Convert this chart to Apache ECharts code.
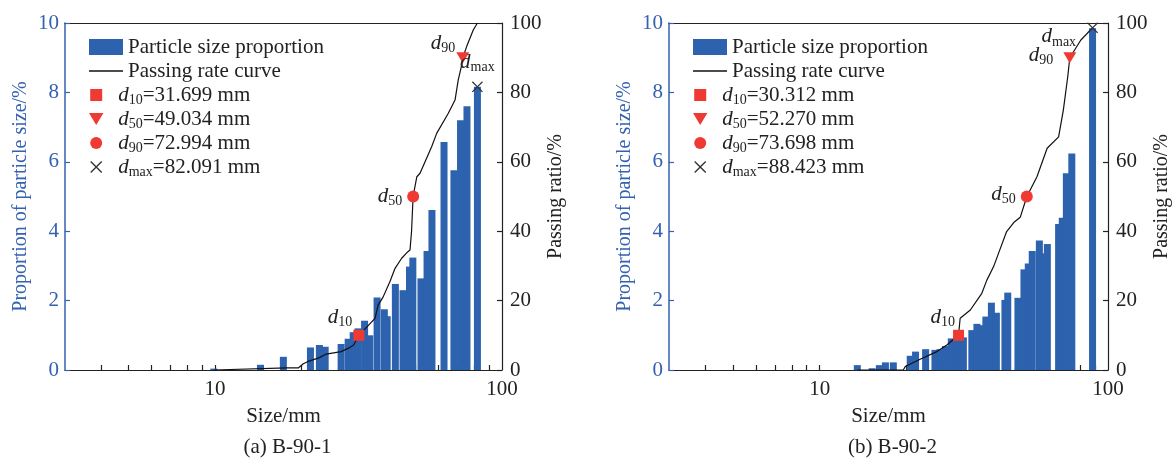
<!DOCTYPE html>
<html>
<head>
<meta charset="utf-8">
<script src="https://cdn.jsdelivr.net/npm/echarts@6/dist/echarts.min.js"></script>
<style>
  html, body { margin: 0; padding: 0; background: #fff; }
  #chart { width: 1174px; height: 459px; }
</style>
</head>
<body>
<div id="chart"></div>
<script>
// ---- particle size distribution, sample B-90-1 ----
const sizesA = [9.9, 14.4, 17.3, 21.5, 23.1, 24.2, 27.5, 29.1, 30.3, 31.5, 33.2, 34.6, 36.7, 38.9, 39.8,
                42.5, 45.2, 47.6, 48.9, 52.2, 54.8, 57.0, 62.8, 68.0, 71.7, 75.5, 82.1];
const propA  = [0.04, 0.15, 0.38, 0.65, 0.72, 0.67, 0.75, 0.90, 1.09, 1.20, 1.42, 1.00, 2.09, 1.75, 1.55,
                2.48, 2.30, 2.98, 3.24, 2.64, 3.43, 4.61, 6.57, 5.76, 7.20, 7.60, 8.16];
const passSizeA = [9.9, 17.8, 19.5, 20.3, 21.0, 23.0, 24.4, 27.5, 29.2, 30.4, 31.7, 34.1, 36.1, 37.0, 38.5,
                   40.7, 42.4, 44.7, 47.0, 47.8, 48.4, 49.0, 50.5, 51.8, 56.9, 59.2, 65.0, 68.6, 70.4,
                   72.4, 73.0, 75.3, 79.4, 82.1];
const passRateA = [0, 0.6, 0.6, 1.8, 2.4, 3.5, 4.6, 5.3, 6.3, 7.2, 10.0, 12.7, 14.9, 18.7, 21.0,
                   25.5, 29.3, 32.2, 34.1, 34.6, 40.0, 50.0, 55.7, 56.7, 64.4, 68.2, 74.0, 77.8, 83.6,
                   87.9, 90.0, 93.2, 98.0, 100];
const charSizesA = [31.699, 49.034, 72.994, 82.091];
const charRatesA = [10, 50, 90, 81.6];

// ---- particle size distribution, sample B-90-2 ----
const sizesB = [13.5, 15.2, 16.1, 16.9, 18.0, 20.6, 21.5, 23.3, 25.1, 26.1, 27.3, 28.6, 30.0, 31.5, 33.7,
                35.1, 36.4, 37.7, 39.4, 41.0, 43.9, 44.9, 48.7, 51.1, 52.9, 54.6, 57.8, 59.7, 61.6,
                67.4, 69.4, 71.7, 74.9, 88.4];
const propB  = [0.14, 0.05, 0.14, 0.22, 0.22, 0.41, 0.53, 0.60, 0.58, 0.60, 0.69, 0.91, 1.00, 0.94, 1.15,
                1.33, 1.29, 1.54, 1.94, 1.65, 2.02, 2.23, 2.08, 2.90, 3.07, 3.43, 3.73, 3.36, 3.63,
                4.21, 4.39, 5.67, 6.24, 9.85];
const passSizeB = [13.5, 19.5, 19.8, 22.3, 25.5, 27.6, 30.3, 30.7, 33.3, 36.5, 38.0, 40.1, 41.7, 44.5,
                   47.1, 49.6, 52.3, 56.7, 61.5, 67.4, 70.0, 72.5, 73.7, 80.5, 88.4];
const passRateB = [0, 0, 1.0, 3.1, 5.3, 7.2, 10.0, 14.9, 17.3, 22.1, 25.9, 29.8, 33.6, 39.9,
                   42.5, 44.0, 50.0, 55.7, 63.9, 67.2, 74.9, 84.5, 90.0, 95.1, 98.6];
const charSizesB = [30.312, 52.270, 73.698, 88.423];
const charRatesB = [10, 50, 90, 98.6];

// ---- shared labels and ticks ----
const charNames = ['d10', 'd50', 'd90', 'dmax'];
const charSubs = ['10', '50', '90', 'max'];
const xLabelSizes = [10, 100];
const xTickSizes = [4, 5, 6, 7, 8, 9, 10, 20, 30, 40, 50, 60, 70, 80, 90];
const leftTicks = [0, 2, 4, 6, 8, 10];
const rightTicks = [0, 20, 40, 60, 80, 100];
const panelTitles = ['(a) B-90-1', '(b) B-90-2'];

// ---- styling ----
const FONT = '"Liberation Serif", "Times New Roman", serif';
const BLUE = '#3561b1';
const BAR = '#2c62ae';
const RED = '#ee3a33';
const INK = '#222';
const TRI_DOWN = 'path://M0,0L12,0L6,10Z';
const CROSS = 'path://M0,0.8L0.8,0L5,4.2L9.2,0L10,0.8L5.8,5L10,9.2L9.2,10L5,5.8L0.8,10L0,9.2L4.2,5Z';
const SQUARE = 'path://M0,0H10V10H0Z';
const DASH = 'path://M0,0H34V1.6H0Z';
const X_MIN = Math.log10(3), X_MAX = 2;
const log10 = Math.log10;

const rich = {
  i: { fontFamily: FONT, fontStyle: 'italic', fontSize: 21, color: INK, lineHeight: 24 },
  s: { fontFamily: FONT, fontSize: 14, color: INK, lineHeight: 12, verticalAlign: 'bottom' },
  t: { fontFamily: FONT, fontSize: 21, color: INK, lineHeight: 24 }
};

const grids = [
  { left: 65, top: 23, width: 437, height: 347 },
  { left: 669, top: 23, width: 439, height: 347 }
];

const markerSymbols = ['rect', 'circle', TRI_DOWN, CROSS];
const markerSizes = [11, 12, [13, 11], 11];
const markerColors = [RED, RED, RED, '#333'];
const legendIcons = [SQUARE, TRI_DOWN, 'circle', CROSS];
const labelPlacement = [
  [['left', [4, -18]], ['left', [0, 0]], ['left', [4, -14]], ['top', [0, -2]]],
  [['left', [7, -18]], ['left', [0, -2]], ['left', [-5, -2]], ['left', [-6, 9]]]
];

const xAxes = [], yAxes = [], series = [], legends = [], graphics = [];

function addPanel(idx, sizes, props, passS, passR, cSizes, cRates) {
  const g = grids[idx];
  // bottom log-scaled size axis
  xAxes.push({
    type: 'value', gridIndex: idx, position: 'bottom', min: X_MIN, max: X_MAX,
    axisLine: { onZero: false, lineStyle: { color: INK, width: 1.2 } },
    axisTick: { show: true, inside: true, length: 5, customValues: xTickSizes.map(log10),
                lineStyle: { color: INK, width: 1.2 } },
    axisLabel: { customValues: xLabelSizes.map(log10), margin: 9, color: INK, fontSize: 21,
                 fontFamily: FONT, formatter: v => String(Math.round(Math.pow(10, v))) },
    splitLine: { show: false },
    name: 'Size/mm', nameLocation: 'middle', nameGap: 36,
    nameTextStyle: { color: INK, fontSize: 21, fontFamily: FONT }
  });
  // top frame line
  xAxes.push({
    type: 'value', gridIndex: idx, position: 'top', min: 0, max: 1,
    axisLine: { onZero: false, lineStyle: { color: INK, width: 1.2 } },
    axisTick: { show: false }, axisLabel: { show: false }, splitLine: { show: false }
  });
  yAxes.push({
    type: 'value', gridIndex: idx, position: 'left', min: leftTicks[0],
    max: leftTicks[leftTicks.length - 1], interval: leftTicks[1] - leftTicks[0],
    axisLine: { show: true, onZero: false, lineStyle: { color: BLUE, width: 1.5 } },
    axisTick: { show: true, inside: true, length: 5, lineStyle: { color: BLUE, width: 1.2 } },
    axisLabel: { color: BLUE, fontSize: 21, fontFamily: FONT, margin: 6 },
    splitLine: { show: false },
    name: 'Proportion of particle size/%', nameLocation: 'middle', nameGap: 34, nameRotate: 90,
    nameTextStyle: { color: BLUE, fontSize: 20, fontFamily: FONT }
  });
  yAxes.push({
    type: 'value', gridIndex: idx, position: 'right', min: rightTicks[0],
    max: rightTicks[rightTicks.length - 1], interval: rightTicks[1] - rightTicks[0],
    axisLine: { show: true, onZero: false, lineStyle: { color: INK, width: 1.2 } },
    axisTick: { show: true, inside: true, length: 5, lineStyle: { color: INK, width: 1.2 } },
    axisLabel: { color: INK, fontSize: 21, fontFamily: FONT, margin: 8 },
    splitLine: { show: false },
    name: 'Passing ratio/%', nameLocation: 'middle', nameGap: 44, nameRotate: 90,
    nameTextStyle: { color: INK, fontSize: 20, fontFamily: FONT }
  });

  const xi = idx * 2, yl = idx * 2, yr = idx * 2 + 1;

  series.push({
    type: 'bar', name: 'Particle size proportion', xAxisIndex: xi, yAxisIndex: yl,
    barWidth: 7, z: 2,
    itemStyle: { color: BAR },
    data: sizes.map((s, i) => [log10(s), props[i]])
  });
  series.push({
    type: 'line', name: 'Passing rate curve', xAxisIndex: xi, yAxisIndex: yr,
    symbol: 'none', z: 3, itemStyle: { color: '#111' },
    lineStyle: { color: '#111', width: 1.2 },
    data: passS.map((s, i) => [log10(s), passR[i]])
  });
  charNames.forEach((nm, k) => {
    const [pos, off] = labelPlacement[idx][k];
    series.push({
      type: 'scatter', name: nm, xAxisIndex: xi, yAxisIndex: yr, z: 4,
      symbol: markerSymbols[k], symbolSize: markerSizes[k],
      itemStyle: { color: markerColors[k], opacity: 1 },
      label: {
        show: true, position: pos, offset: off, distance: 5,
        formatter: '{i|d}{s|' + charSubs[k] + '}', rich: rich
      },
      data: [[log10(cSizes[k]), cRates[k]]]
    });
  });

  // legend: bar + curve
  legends.push({
    orient: 'vertical', left: g.left + 24, top: 35, padding: 0, itemGap: 0,
    itemWidth: 34, itemHeight: 16, selectedMode: false, symbolKeepAspect: true,
    textStyle: { fontFamily: FONT, fontSize: 21, color: INK, lineHeight: 24 },
    data: [
      { name: 'Particle size proportion', icon: 'rect' },
      { name: 'Passing rate curve', icon: DASH, itemStyle: { color: '#111', opacity: 1 } }
    ]
  });
  // legend: characteristic sizes
  legends.push({
    orient: 'vertical', left: g.left + 24, top: 83, padding: 0, itemGap: 0,
    itemWidth: 34, itemHeight: 12, selectedMode: false, symbolKeepAspect: true,
    textStyle: { fontFamily: FONT, fontSize: 21, color: INK, lineHeight: 24, rich: rich },
    formatter: name => {
      const k = charNames.indexOf(name);
      return '{i|d}{s|' + charSubs[k] + '}{t|=' + cSizes[k].toFixed(3) + ' mm}';
    },
    data: charNames.map((nm, k) => ({ name: nm, icon: legendIcons[k],
      itemStyle: { color: markerColors[k], opacity: 1 } }))
  });

  graphics.push({
    type: 'text', x: g.left + g.width / 2 + 4, y: 447,
    style: { text: panelTitles[idx], fontFamily: FONT, fontSize: 21, fill: INK,
             align: 'center', verticalAlign: 'middle' }
  });
}

addPanel(0, sizesA, propA, passSizeA, passRateA, charSizesA, charRatesA);
addPanel(1, sizesB, propB, passSizeB, passRateB, charSizesB, charRatesB);

const chart = echarts.init(document.getElementById('chart'), null, { renderer: 'canvas' });
chart.setOption({
  animation: false,
  backgroundColor: '#fff',
  textStyle: { fontFamily: FONT },
  grid: grids,
  xAxis: xAxes,
  yAxis: yAxes,
  legend: legends,
  series: series,
  graphic: graphics
});
</script>
</body>
</html>
